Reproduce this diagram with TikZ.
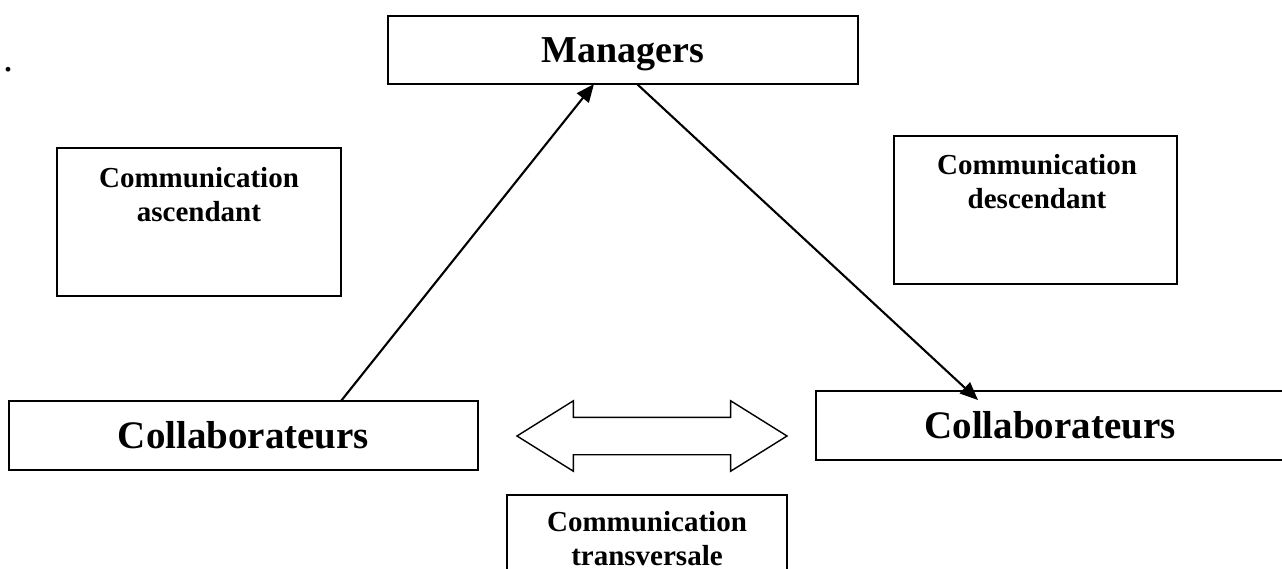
\documentclass[tikz,border=0pt]{standalone}
\usepackage{fontspec}
\setmainfont{Liberation Serif}
\usetikzlibrary{arrows.meta, shapes.arrows}

\begin{document}
\begin{tikzpicture}[
    x=1pt, y=-1pt,
    box/.style={rectangle, draw=black, line width=2.1pt, inner sep=0pt, outer sep=0pt},
    bigtext/.style={font=\bfseries\fontsize{#1}{44}\selectfont, text height=25.5pt, text depth=0pt},
    smalltext/.style={font=\bfseries\fontsize{29}{34}\selectfont, align=center, inner sep=0pt, anchor=north},
    arrow/.style={-{Triangle[length=18pt, width=15pt]}, line width=2.1pt}
]
\useasboundingbox (0,0) rectangle (1282,569);

% main boxes
\node[box, bigtext=38, minimum width=470pt, minimum height=68pt] (mgr) at (623,50) {Managers};
\node[box, bigtext=39, minimum width=469pt, minimum height=69pt] (collabL) at (243.5,435.5) {Collaborateurs};
\node[box, bigtext=39, minimum width=468pt, minimum height=69pt] (collabR) at (1050,425.5) {Collaborateurs};

% labelled boxes
\node[box, minimum width=284pt, minimum height=148pt] (ascBox) at (199,222) {};
\node[smalltext] (ascText) at (199,167.5) {Communication\\ascendant};
\node[box, minimum width=283pt, minimum height=148pt] (descBox) at (1035.5,210) {};
\node[smalltext] (descText) at (1037,154.5) {Communication\\descendant};
\node[box, minimum width=280pt, minimum height=150pt] (transBox) at (647,570) {};
\node[smalltext] (transText) at (647,511) {Communication\\transversale};

% lateral double arrow
\node[double arrow, draw=black, line width=1.4pt, inner xsep=0pt, inner ysep=18pt, outer sep=0pt,
      minimum height=270pt, minimum width=69pt,
      double arrow head extend=16.5pt, double arrow tip angle=64] (lateral) at (652,436) {};

\node[font=\fontsize{40}{44}\selectfont, inner sep=0pt] (dot) at (8,70) {.};

\draw[arrow] ([xshift=97.5pt]collabL.north) -- ([xshift=-29pt]mgr.south);
\draw[arrow] ([xshift=14pt]mgr.south) -- ([xshift=-72pt, yshift=-9pt]collabR.north);

\end{tikzpicture}
\end{document}
